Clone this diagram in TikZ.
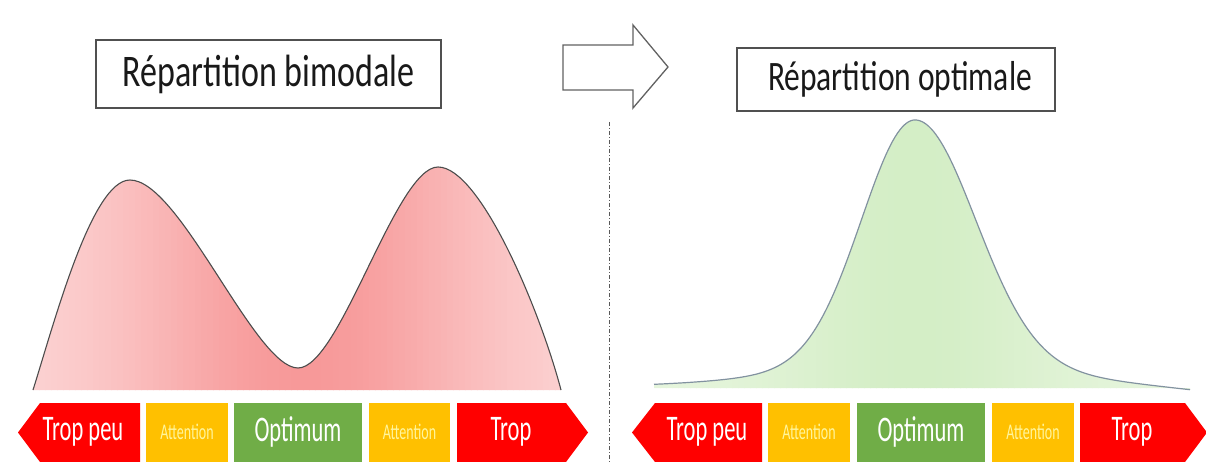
\documentclass[tikz,border=0pt]{standalone}
\usepackage{fontspec}
\setmainfont{Carlito}
\usepackage{graphicx}
\definecolor{barred}{HTML}{FF0000}
\definecolor{baryellow}{HTML}{FFC000}
\definecolor{bargreen}{HTML}{70AD47}
\definecolor{attxt}{HTML}{FFF59D}
\definecolor{pinkedge}{HTML}{FCD8D8}
\definecolor{pinkmid}{HTML}{F79999}
\definecolor{greenedge}{HTML}{E6F5DD}
\definecolor{greenmid}{HTML}{D4EEC6}
\definecolor{boxline}{HTML}{505050}
\newcommand{\titletxt}[1]{\scalebox{1}[1.33]{#1}}
\newcommand{\bartxt}[1]{\scalebox{1}[1.6]{#1}}
% outlines of the two distributions
\newcommand{\bimodalcurve}{(33,390) .. controls (55,320) and (92,180) .. (130,180)
  .. controls (180,180) and (255,368) .. (298,368)
  .. controls (340,368) and (396,167) .. (438,167)
  .. controls (480,167) and (540,310) .. (561,390)}
\newcommand{\bellcurve}{plot[domain=654:915,samples=120,smooth]
    (\x,{387-245*exp(-((\x-915)/75)^2)-22*exp(-((\x-915)/180)^2)})
  -- plot[domain=915:1190,samples=120,smooth]
    (\x,{387+6*((\x-915)/275)^3-245*exp(-((\x-915)/85)^2)-22*exp(-((\x-915)/200)^2)})}
\begin{document}
\begin{tikzpicture}[x=1pt,y=-1pt,
  titlebox/.style={draw=boxline,line width=1.2pt,fill=white,inner sep=0pt},
  titlelabel/.style={anchor=base,inner sep=0pt,text=black!90},
  blockarrow/.style={draw=boxline!90,line width=1.3pt,fill=white,line join=miter},
  separator/.style={draw=black!65,line width=0.9pt,dash pattern=on 4pt off 2pt on 1pt off 2pt},
  redpart/.style={fill=barred},
  yellowpart/.style={fill=baryellow},
  greenpart/.style={fill=bargreen},
  biglabel/.style={text=white,inner sep=0pt,font=\fontsize{22.5}{24}\selectfont},
  smalllabel/.style={text=attxt,inner sep=0pt,font=\fontsize{14}{16}\selectfont},
]
\useasboundingbox (0,0) rectangle (1206,462);
\clip (0,0) rectangle (1206,462);

% ---------- titles ----------
\node[titlebox,minimum width=345pt,minimum height=68pt] (boxL) at (268.5,74) {};
\node[titlelabel,font=\fontsize{34}{38}\selectfont] (titleL) at (268.5,87) {\titletxt{Répartition bimodale}};
\node[titlebox,minimum width=318pt,minimum height=63pt] (boxR) at (896,79.5) {};
\node[titlelabel,font=\fontsize{31.5}{36}\selectfont] (titleR) at (900,91) {\titletxt{Répartition optimale}};

% ---------- block arrow between the titles ----------
\draw[blockarrow] (563,45) -- (633,45) -- (633,25) -- (668,67)
  -- (633,108) -- (633,90) -- (563,90) -- cycle;

% ---------- separator ----------
\coordinate (sepTop) at (609,122);
\coordinate (sepBot) at (609,462);
\draw[separator] (sepTop) -- (sepBot);

% ---------- bimodal curve: graded fill, darker towards the valley ----------
\begin{scope}
  \clip \bimodalcurve -- cycle;
  \foreach \i in {0,...,89} {
    \pgfmathsetmacro{\xa}{33+\i*6}
    \pgfmathsetmacro{\p}{100*exp(-((\xa+3-305)/185)^2)}
    \fill[pinkmid!\p!pinkedge] (\xa,160) rectangle (\xa+7,392);
  }
\end{scope}
\draw[draw=black!70,line width=1.1pt] \bimodalcurve;

% ---------- bell curve: graded fill, darker at the centre ----------
\begin{scope}
  \clip \bellcurve -- (1190,388) -- (654,388) -- cycle;
  \foreach \i in {0,...,90} {
    \pgfmathsetmacro{\xa}{654+\i*6}
    \pgfmathsetmacro{\p}{100*exp(-((\xa+3-915)/150)^2)}
    \fill[greenmid!\p!greenedge] (\xa,110) rectangle (\xa+7,390);
  }
\end{scope}
\draw[draw={rgb,255:red,130;green,146;blue,160},line width=1.2pt] \bellcurve;

% ---------- scales under the curves ----------
% left scale
\fill[redpart] (18,432.5) -- (40,403) -- (140,403) -- (140,462) -- (40,462) -- cycle;
\fill[yellowpart] (146,403) rectangle (228,462);
\fill[greenpart] (234,403) rectangle (362,462);
\fill[yellowpart] (369,403) rectangle (450,462);
\fill[redpart] (457,403) -- (566,403) -- (588,432.5) -- (566,462) -- (457,462) -- cycle;
\node[biglabel] (lowL) at (83,432) {\bartxt{Trop peu}};
\node[smalllabel] (att1L) at (187,432) {\bartxt{Attention}};
\node[biglabel] (optL) at (298,432) {\bartxt{Optimum}};
\node[smalllabel] (att2L) at (409.5,432) {\bartxt{Attention}};
\node[biglabel] (highL) at (511,432) {\bartxt{Trop}};
% right scale
\fill[redpart] (632,432.5) -- (655,403) -- (762,403) -- (762,462) -- (655,462) -- cycle;
\fill[yellowpart] (768,403) rectangle (850,462);
\fill[greenpart] (857,403) rectangle (985,462);
\fill[yellowpart] (992,403) rectangle (1074,462);
\fill[redpart] (1080,403) -- (1185,403) -- (1207,432.5) -- (1185,462) -- (1080,462) -- cycle;
\node[biglabel] (lowR) at (707,432) {\bartxt{Trop peu}};
\node[smalllabel] (att1R) at (809,432) {\bartxt{Attention}};
\node[biglabel] (optR) at (921,432) {\bartxt{Optimum}};
\node[smalllabel] (att2R) at (1033,432) {\bartxt{Attention}};
\node[biglabel] (highR) at (1132,432) {\bartxt{Trop}};
\end{tikzpicture}
\end{document}
